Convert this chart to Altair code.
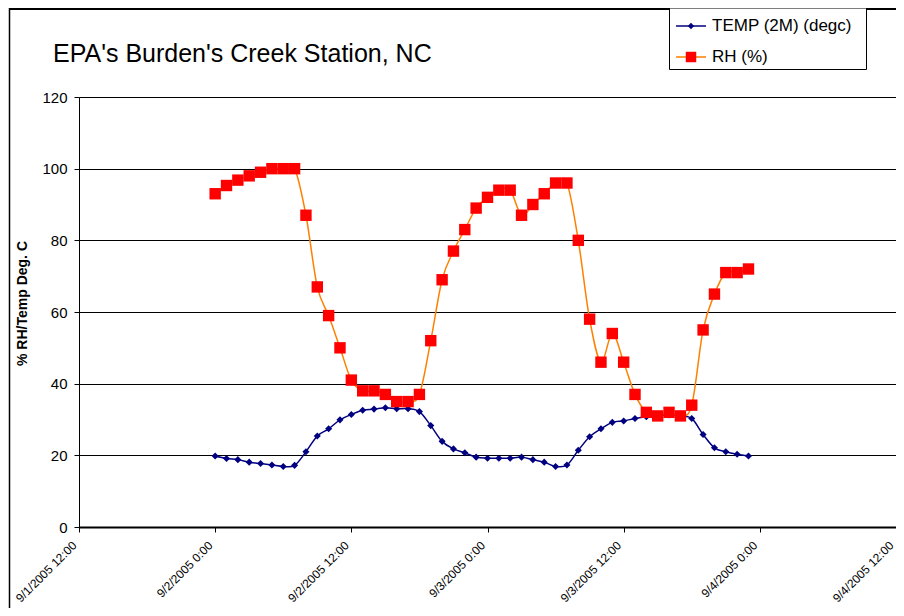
import altair as alt
import pandas as pd

FONT = "Liberation Sans"

# hourly observations starting 9/2/2005 0:00
times = [f"2005-09-{2 + h // 24:02d}T{h % 24:02d}:00:00Z" for h in range(48)]

temp = [19.8, 19.1, 18.8, 18.1, 17.7, 17.3, 16.9, 17.2,
        21.0, 25.4, 27.4, 29.9, 31.4, 32.6, 32.9, 33.3,
        33.0, 33.0, 32.2, 28.3, 23.9, 21.8, 20.7, 19.5,
        19.2, 19.2, 19.2, 19.5, 18.8, 18.1, 16.9, 17.3,
        21.4, 25.2, 27.4, 29.2, 29.6, 30.3, 30.8, 31.1,
        31.3, 31.0, 30.3, 25.8, 22.1, 21.0, 20.3, 19.8]

rh = [93, 95.3, 96.8, 98, 99, 100, 100, 100,
      87, 67, 59, 50, 41, 38, 38, 37,
      35, 35, 37, 52, 69, 77, 83, 89,
      92, 94, 94, 87, 90, 93, 96, 96,
      80, 58, 46, 54, 46, 37, 32, 31,
      32, 31, 34, 55, 65, 71, 71, 72]

y_ticks = [0, 20, 40, 60, 80, 100, 120]
x_ticks = [(1, 12), (2, 0), (2, 12), (3, 0), (3, 12), (4, 0), (4, 12)]
legend_labels = ["TEMP (2M) (degc)", "RH (%)"]
chart_title = ["EPA's Burden's Creek Station, NC"]
y_title = "% RH/Temp Deg. C"

TEMP_COLOR = "#000080"
RH_LINE = "#FF8000"
RH_MARK = "#FF0000"

df = pd.DataFrame({"time": times, "temp": temp, "rh": rh})

x_enc = alt.X(
    "time:T",
    scale=alt.Scale(type="utc", domain=[alt.DateTime(year=2005, month=9, date=1, hours=12, utc=True),
                                        alt.DateTime(year=2005, month=9, date=4, hours=12, utc=True)]),
    axis=alt.Axis(
        values=[alt.DateTime(year=2005, month=9, date=d, hours=h, utc=True) for d, h in x_ticks],
        labelExpr="utcFormat(datum.value, '%-m/%-d/%Y %-H:%M')",
        labelAngle=-45, labelAlign="right", labelBaseline="bottom",
        labelFont=FONT, labelFontSize=12, labelColor="black", labelPadding=16,
        labelOverlap=False, labelFlush=False, labelBound=False,
        tickSize=5, tickColor="black", domainColor="black", domainWidth=2,
        grid=False, title=None,
    ),
    title=None,
)

y_axis = alt.Axis(
    values=y_ticks, grid=True, gridColor="black", gridWidth=1,
    tickSize=5, tickColor="black", domainColor="black",
    labelFont=FONT, labelFontSize=15, labelColor="black", labelPadding=7,
    title=y_title, titleFont=FONT, titleFontSize=14, titleFontWeight="bold",
    titleColor="black", titleX=-53, titleY=206, titleAngle=270,
    titleAlign="center", titleBaseline="alphabetic",
)

base = alt.Chart(df)

temp_line = base.mark_line(color=TEMP_COLOR, strokeWidth=1.5, interpolate="cardinal").encode(
    x=x_enc, y=alt.Y("temp:Q", scale=alt.Scale(domain=[0, 120], nice=False), axis=y_axis))
temp_pts = base.mark_point(shape="diamond", filled=True, color=TEMP_COLOR, size=50, opacity=1).encode(
    x="time:T", y="temp:Q")
rh_line = base.mark_line(color=RH_LINE, strokeWidth=1.5, interpolate="cardinal").encode(
    x="time:T", y="rh:Q")
rh_pts = base.mark_point(shape="square", filled=True, color=RH_MARK, size=130, opacity=1).encode(
    x="time:T", y="rh:Q")

# outer chart border (left and top)
frame = alt.Chart(pd.DataFrame({"k": [0]}))
border_top = frame.mark_rule(color="black", strokeWidth=2).encode(
    x=alt.value(-70), x2=alt.value(830), y=alt.value(-88))
border_left = frame.mark_rule(color="black", strokeWidth=1.5).encode(
    x=alt.value(-69.5), y=alt.value(-89), y2=alt.value(540))

# chart title
title_mark = alt.Chart(pd.DataFrame({"t": chart_title})).mark_text(
    align="left", baseline="alphabetic", font=FONT, fontSize=25, color="black").encode(
    x=alt.value(-26), y=alt.value(-35), text="t:N")

# legend box
leg_box = frame.mark_rect(fill="white", stroke="black", strokeWidth=1).encode(
    x=alt.value(590.5), x2=alt.value(787.5), y=alt.value(-89), y2=alt.value(-27.5))

def legend_entry(label, ypos, line_color, shape, mark_color, size):
    d = alt.Chart(pd.DataFrame({"label": [label]}))
    ln = d.mark_rule(color=line_color, strokeWidth=1.5).encode(
        x=alt.value(597), x2=alt.value(627), y=alt.value(ypos))
    pt = d.mark_point(shape=shape, filled=True, color=mark_color, size=size, opacity=1).encode(
        x=alt.value(612), y=alt.value(ypos))
    tx = d.mark_text(align="left", baseline="middle", font=FONT, fontSize=17, color="black").encode(
        x=alt.value(633), y=alt.value(ypos), text="label:N")
    return [ln, pt, tx]

leg1 = legend_entry(legend_labels[0], -71, TEMP_COLOR, "diamond", TEMP_COLOR, 40)
leg2 = legend_entry(legend_labels[1], -40, RH_LINE, "square", RH_MARK, 110)

chart = alt.layer(
    temp_line, temp_pts, rh_line, rh_pts,
    border_top, border_left, title_mark, leg_box, *leg1, *leg2,
).properties(
    width=817, height=430,
    autosize=alt.AutoSizeParams(type="none"),
    padding={"left": 71, "top": 89, "right": 0, "bottom": 81},
).configure_view(stroke="black", strokeWidth=1).configure(background="white")

chart.save("out.html", embed_options={"renderer": "svg", "actions": False})
